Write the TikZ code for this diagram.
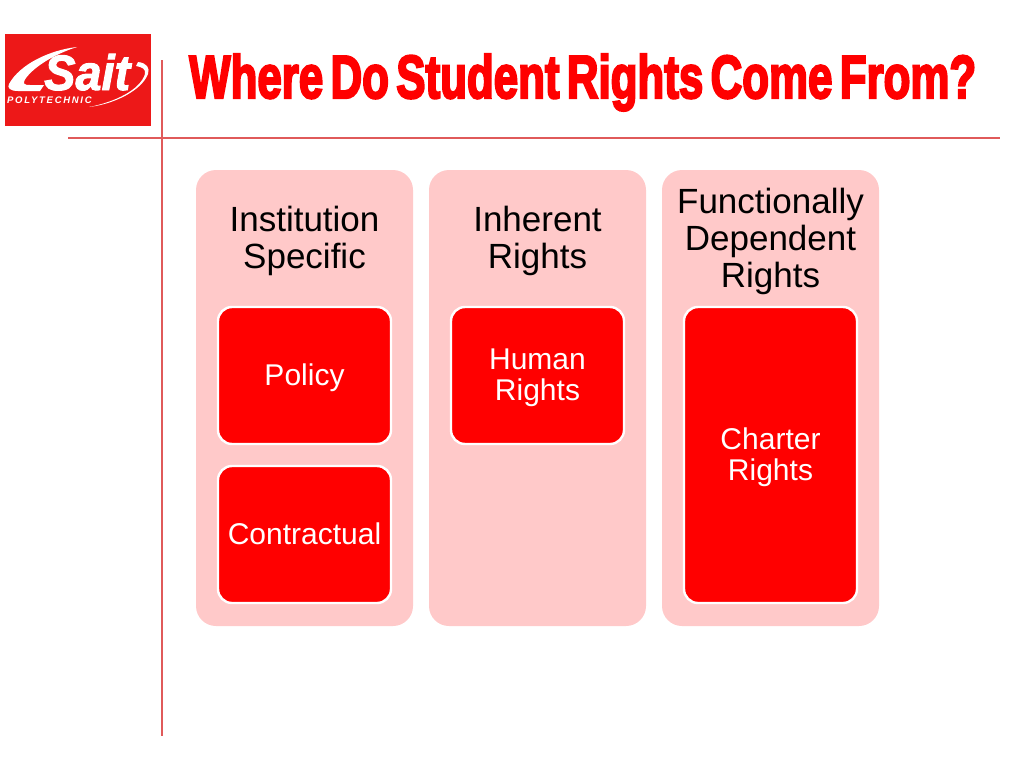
\documentclass[tikz,border=0pt]{standalone}
\usepackage{fontspec}
\usepackage{graphicx}
\setmainfont{Liberation Sans}
\newfontfamily\titlefont[FakeBold=4,WordSpace=0.6]{Liberation Sans Bold}
\newfontfamily\logofont[FakeBold=2]{Liberation Sans Bold Italic}
\newfontfamily\logosubfont[LetterSpace=18]{Liberation Sans Bold Italic}
\definecolor{panelpink}{HTML}{FFC9C9}
\definecolor{rulered}{HTML}{E05A5A}
\definecolor{logored}{HTML}{ED1818}
\tikzset{
  panelbox/.style={fill=panelpink,draw=none,rounded corners=20pt},
  innerbox/.style={fill=red,draw=white,line width=2.4pt,rounded corners=14pt},
  headtext/.style={font=\fontsize{35}{37}\selectfont,align=center,text=black,inner sep=0pt},
  innertext/.style={font=\fontsize{30}{31}\selectfont,align=center,text=white,inner sep=0pt},
  rulerline/.style={draw=rulered,line width=1.3pt},
}
\begin{document}
\begin{tikzpicture}[x=1pt,y=-1pt]
\useasboundingbox (0,0) rectangle (1024,768);
% rules
\draw[rulerline] (68,138) -- (1000,138);
\draw[rulerline] (162,60) -- (162,736);
% logo
\fill[logored] (5,34) rectangle (151,126);
\fill[white] (9,84) .. controls (20,64) and (50,50) .. (77,47) .. controls (55,54) and (35,66) .. (26,78) .. controls (22,84) and (24,85) .. (30,85) -- (44,85) -- (40,91) -- (18,91) .. controls (10,91) and (7,88) .. (9,84) -- cycle;
\fill[white] (89,107) .. controls (115,102) and (140,90) .. (145,74) .. controls (146,69) and (142,67) .. (136,66) -- (138,62) .. controls (147,63) and (150,68) .. (148,74) .. controls (142,90) and (115,104) .. (89,107) -- cycle;
\node[inner sep=0pt,text=white,anchor=base west] (logoword) at (44,90) {\resizebox{86pt}{36pt}{\logofont Sait}};
\node[inner sep=0pt,text=white,anchor=base west,font=\fontsize{9.5}{9.5}\selectfont\logosubfont] (logosub) at (7,103.5) {POLYTECHNIC};
% title
\node[inner sep=0pt,text=red,anchor=base west] (title) at (189,98) {\resizebox{787pt}{44pt}{\titlefont Where Do Student Rights Come From?}};
% panels
\node[panelbox,minimum width=217pt,minimum height=456pt] (p1) at (304.5,398) {};
\node[panelbox,minimum width=217pt,minimum height=456pt] (p2) at (537.5,398) {};
\node[panelbox,minimum width=217pt,minimum height=456pt] (p3) at (770.5,398) {};
% panel headings
\node[headtext] (h1) at (304.5,240.5) {Institution\\Specific};
\node[headtext] (h2) at (537.5,240.5) {Inherent\\Rights};
\node[headtext] (h3) at (770.5,241) {Functionally\\Dependent\\Rights};
% inner boxes
\node[innerbox,minimum width=173pt,minimum height=137pt] (policy) at (304.5,375.5) {};
\node[innerbox,minimum width=173pt,minimum height=137pt] (contract) at (304.5,534.5) {};
\node[innerbox,minimum width=173pt,minimum height=137pt] (human) at (537.5,375.5) {};
\node[innerbox,minimum width=173pt,minimum height=296pt] (charter) at (770.5,455) {};
\node[innertext] (tpolicy) at (304.5,377.5) {Policy};
\node[innertext] (tcontract) at (304.5,533.5) {Contractual};
\node[innertext] (thuman) at (537.5,378) {Human\\Rights};
\node[innertext] (tcharter) at (770.5,457) {Charter\\Rights};
\end{tikzpicture}
\end{document}
